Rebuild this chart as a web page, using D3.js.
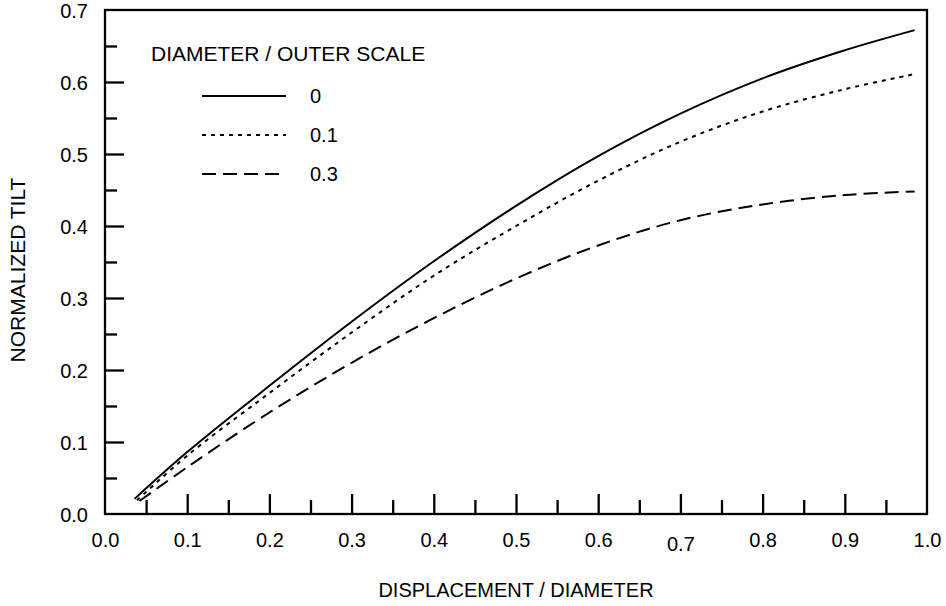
<!DOCTYPE html>
<html>
<head>
<meta charset="utf-8">
<script src="https://cdn.jsdelivr.net/npm/d3@7/dist/d3.min.js"></script>
<style>
  html, body { margin: 0; padding: 0; background: #fff; }
  svg text { font-family: "Liberation Sans", Arial, Helvetica, sans-serif; fill: #000; }
</style>
</head>
<body>
<svg id="chart" width="946" height="606"></svg>
<script>
// Normalized tilt vs. displacement, for three diameter / outer-scale ratios
const displacement0  = [0.036, 0.1, 0.2, 0.3, 0.4, 0.5, 0.6, 0.7, 0.8, 0.9, 0.985];
const displacement01 = [0.039, 0.1, 0.2, 0.3, 0.4, 0.5, 0.6, 0.7, 0.8, 0.9, 0.985];
const displacement03 = [0.042, 0.1, 0.2, 0.3, 0.4, 0.5, 0.6, 0.7, 0.8, 0.9, 0.985];
const tiltRatio0  = [0.021, 0.086, 0.178, 0.267, 0.351, 0.428, 0.497, 0.556, 0.605, 0.644, 0.672];
const tiltRatio01 = [0.019, 0.081, 0.168, 0.252, 0.331, 0.400, 0.463, 0.517, 0.559, 0.590, 0.611];
const tiltRatio03 = [0.018, 0.065, 0.141, 0.210, 0.272, 0.327, 0.373, 0.408, 0.430, 0.443, 0.448];

const seriesNames = ["0", "0.1", "0.3"];
const legendTitle = "DIAMETER / OUTER SCALE";
const xTitle = "DISPLACEMENT / DIAMETER";
const yTitle = "NORMALIZED TILT";

const xMajorTicks = [0.1, 0.2, 0.3, 0.4, 0.5, 0.6, 0.7, 0.8, 0.9];
const xMinorTicks = [0.05, 0.15, 0.25, 0.35, 0.45, 0.55, 0.65, 0.75, 0.85, 0.95];
const xTickLabels = [0.0, 0.1, 0.2, 0.3, 0.4, 0.5, 0.6, 0.7, 0.8, 0.9, 1.0];
const yMajorTicks = [0.1, 0.2, 0.3, 0.4, 0.5, 0.6];
const yMinorTicks = [0.05, 0.15, 0.25, 0.35, 0.45, 0.55, 0.65];
const yTickLabels = [0.0, 0.1, 0.2, 0.3, 0.4, 0.5, 0.6, 0.7];

const series = [
  { name: seriesNames[0], xs: displacement0,  ys: tiltRatio0,  dash: null },
  { name: seriesNames[1], xs: displacement01, ys: tiltRatio01, dash: "4,5" },
  { name: seriesNames[2], xs: displacement03, ys: tiltRatio03, dash: "14,7" }
];

const margin = { left: 105, right: 19, top: 10, bottom: 92 };
const W = 946, H = 606;
const svg = d3.select("#chart");

const x = d3.scaleLinear().domain([0, 1]).range([margin.left, W - margin.right]);
const y = d3.scaleLinear().domain([0, 0.7]).range([H - margin.bottom, margin.top]);

const fmt = d3.format(".1f");
const fontSize = 20;
const strokeW = 2.3;

// inward ticks on the bottom and left axes
function tickAxis(axisGen, transform, values, size) {
  const g = svg.append("g").attr("transform", transform)
    .call(axisGen.tickValues(values).tickSize(size).tickFormat(""));
  g.select(".domain").remove();
  g.selectAll(".tick line").attr("stroke", "#000").attr("stroke-width", strokeW);
  return g;
}
const yBase = y(0);
tickAxis(d3.axisBottom(x), `translate(0,${yBase})`, xMajorTicks, -20);
tickAxis(d3.axisBottom(x), `translate(0,${yBase})`, xMinorTicks, -14);
tickAxis(d3.axisLeft(y), `translate(${margin.left},0)`, yMajorTicks, -19);
tickAxis(d3.axisLeft(y), `translate(${margin.left},0)`, yMinorTicks, -12);

// tick labels (the 0.7 label is set a little lower than its neighbours)
const xLab = svg.append("g").attr("transform", `translate(0,${yBase})`)
  .call(d3.axisBottom(x).tickValues(xTickLabels).tickSize(0).tickPadding(0).tickFormat(fmt));
xLab.select(".domain").remove();
xLab.selectAll(".tick text")
  .attr("font-size", fontSize)
  .attr("font-family", null)
  .attr("dy", null)
  .attr("y", d => d === 0.7 ? 37 : 33);

const yLab = svg.append("g").attr("transform", `translate(${margin.left},0)`)
  .call(d3.axisLeft(y).tickValues(yTickLabels).tickSize(0).tickPadding(17).tickFormat(fmt));
yLab.select(".domain").remove();
yLab.selectAll(".tick text")
  .attr("font-size", fontSize)
  .attr("font-family", null)
  .attr("dy", "0.35em");

// plot frame
svg.append("rect")
  .attr("x", x(0)).attr("y", y(0.7))
  .attr("width", x(1) - x(0)).attr("height", y(0) - y(0.7))
  .attr("fill", "none").attr("stroke", "#000").attr("stroke-width", strokeW);

// curves
const line = d3.line().curve(d3.curveCatmullRom.alpha(0.5));
series.forEach(s => {
  const pts = s.xs.map((v, i) => [x(v), y(s.ys[i])]);
  svg.append("path")
    .attr("d", line(pts))
    .attr("fill", "none")
    .attr("stroke", "#000")
    .attr("stroke-width", 2)
    .attr("stroke-dasharray", s.dash);
});

// legend
svg.append("text").attr("x", 151).attr("y", 61)
  .attr("font-size", 21).text(legendTitle);
const legRows = [96, 135, 174];
series.forEach((s, i) => {
  svg.append("line")
    .attr("x1", 202).attr("x2", 286)
    .attr("y1", legRows[i]).attr("y2", legRows[i])
    .attr("stroke", "#000").attr("stroke-width", 2)
    .attr("stroke-dasharray", s.dash);
  svg.append("text").attr("x", 310).attr("y", legRows[i])
    .attr("dy", "0.35em").attr("font-size", fontSize).text(s.name);
});

// axis titles
svg.append("text")
  .attr("x", (x(0) + x(1)) / 2).attr("y", 597)
  .attr("text-anchor", "middle").attr("font-size", fontSize).text(xTitle);
svg.append("text")
  .attr("transform", "translate(25,270) rotate(-90)")
  .attr("text-anchor", "middle").attr("font-size", 21).text(yTitle);
</script>
</body>
</html>
